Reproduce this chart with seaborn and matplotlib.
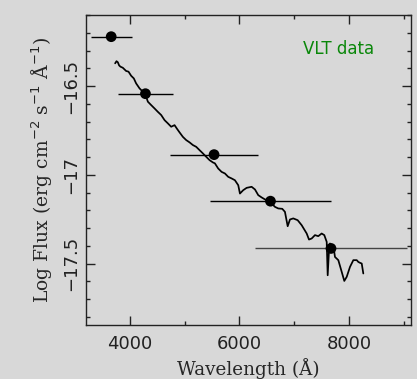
import matplotlib
matplotlib.use('Agg')
import matplotlib.pyplot as plt
import seaborn as sns
import pandas as pd
from matplotlib.ticker import MultipleLocator, FuncFormatter

# --- photometric points (band centre, half width, log flux) ---
PHOT_WAVE = [3660, 4285, 5537, 6566, 7670]
PHOT_HALFWIDTH = [372, 505, 807, 1105, 1382]
PHOT_FLUX = [-16.222, -16.543, -16.886, -17.148, -17.414]

# --- VLT spectrum ---
SPEC_WAVE = [
    3732, 3757, 3781, 3805, 3830, 3872, 3932, 3976, 4024, 4073,
    4115, 4177, 4237, 4298, 4329, 4389, 4451, 4511, 4572, 4634,
    4694, 4754, 4816, 4864, 4908, 4968, 5028, 5090, 5150, 5211,
    5273, 5333, 5393, 5455, 5516, 5552, 5612, 5674, 5735, 5795,
    5857, 5917, 5978, 6009, 6069, 6131, 6222, 6283, 6343, 6405,
    6465, 6525, 6587, 6648, 6708, 6781, 6830, 6880, 6922, 6982,
    7062, 7135, 7227, 7269, 7318, 7378, 7438, 7500, 7548, 7592,
    7610, 7634, 7652, 7683, 7712, 7743, 7804, 7866, 7913, 7957,
    8017, 8078, 8140, 8169, 8200, 8231, 8260,
]
SPEC_FLUX = [
    -16.372, -16.360, -16.366, -16.384, -16.391, -16.397, -16.415, -16.419, -16.442, -16.457,
    -16.485, -16.513, -16.532, -16.560, -16.588, -16.607, -16.626, -16.645, -16.663, -16.692,
    -16.710, -16.729, -16.720, -16.742, -16.761, -16.786, -16.804, -16.817, -16.832, -16.842,
    -16.861, -16.879, -16.898, -16.917, -16.930, -16.935, -16.964, -16.983, -16.992, -17.011,
    -17.020, -17.030, -17.058, -17.105, -17.086, -17.073, -17.067, -17.082, -17.114, -17.127,
    -17.138, -17.146, -17.161, -17.180, -17.189, -17.191, -17.208, -17.289, -17.251, -17.245,
    -17.255, -17.283, -17.330, -17.364, -17.358, -17.339, -17.345, -17.330, -17.339, -17.377,
    -17.565, -17.424, -17.386, -17.405, -17.396, -17.462, -17.480, -17.546, -17.597, -17.574,
    -17.518, -17.480, -17.480, -17.490, -17.495, -17.499, -17.555,
]

BG = '#d8d8d8'

sns.set_style('ticks')
plt.rcParams['font.family'] = ['DejaVu Sans']

spec_df = pd.DataFrame({'wave': SPEC_WAVE, 'flux': SPEC_FLUX})
phot_df = pd.DataFrame({'wave': PHOT_WAVE, 'flux': PHOT_FLUX, 'err': PHOT_HALFWIDTH})

fig = plt.figure(figsize=(4.17, 3.79), dpi=100, facecolor=BG)
ax = fig.add_axes([0.2062, 0.1425, 0.7794, 0.8179])
ax.set_facecolor(BG)

sns.lineplot(data=spec_df, x='wave', y='flux', sort=False, color='black',
             linewidth=1.25, ax=ax)

# horizontal bars = filter widths
for i, row in phot_df.iterrows():
    col = '#444444' if i == len(phot_df) - 1 else 'black'
    ax.errorbar(row['wave'], row['flux'], xerr=row['err'], fmt='none',
                ecolor=col, elinewidth=1.0, capsize=0)
sns.scatterplot(data=phot_df, x='wave', y='flux', color='black', s=60,
                edgecolor='none', zorder=5, ax=ax)

ax.set_xlim(3200, 9130)
ax.set_ylim(-17.845, -16.1)
ax.xaxis.set_major_locator(MultipleLocator(2000))
ax.xaxis.set_minor_locator(MultipleLocator(1000))
ax.yaxis.set_major_locator(MultipleLocator(0.5))
ax.yaxis.set_minor_locator(MultipleLocator(0.1))
ax.yaxis.set_major_formatter(FuncFormatter(lambda v, p: ('%g' % v).replace('-', '\u2212')))
ax.tick_params(which='both', direction='in', top=True, right=True,
               width=1.0, colors='#222222')
ax.tick_params(which='major', length=6.5, labelsize=13, pad=7)
ax.tick_params(which='minor', length=3.2)
ax.tick_params(axis='y', which='major', pad=4)
for lab in ax.get_yticklabels():
    lab.set_rotation(90)
    lab.set_va('center')
for sp in ax.spines.values():
    sp.set_linewidth(1.0)
    sp.set_color('#222222')
    sp.set_visible(True)

ax.set_xlabel('Wavelength (Å)', fontsize=13.2, family='DejaVu Serif', labelpad=4)
ax.set_ylabel(r'Log Flux (erg cm$^{-2}$ s$^{-1}$ Å$^{-1}$)', fontsize=13.5,
              family='DejaVu Serif', labelpad=5)

ax.text(0.777, 0.89, 'VLT data', transform=ax.transAxes, color='#0a870a',
        fontsize=12, ha='center', va='center')

fig.savefig('out.png', dpi=100, facecolor=BG)
